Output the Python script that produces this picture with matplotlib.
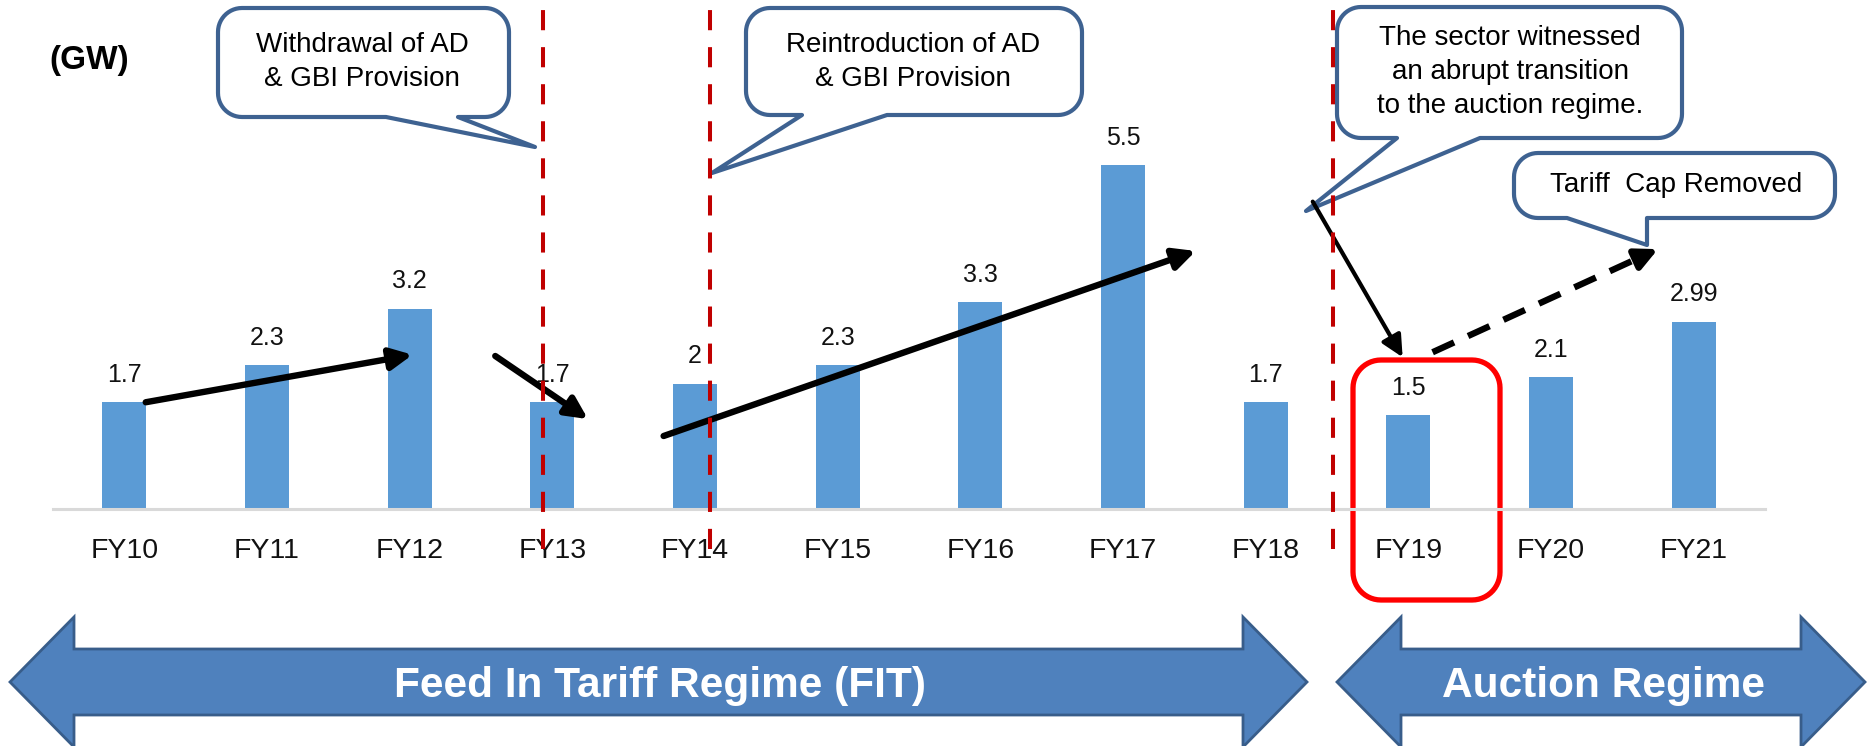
import matplotlib
matplotlib.use("Agg")
import matplotlib.pyplot as plt
from matplotlib.patches import Polygon
import numpy as np

# ---------------- data ----------------
categories = ["FY10", "FY11", "FY12", "FY13", "FY14", "FY15",
              "FY16", "FY17", "FY18", "FY19", "FY20", "FY21"]
capacity_gw = [1.7, 2.3, 3.2, 1.7, 2.0, 2.3, 3.3, 5.5, 1.7, 1.5, 2.1, 2.99]
unit_label = "(GW)"
callout_texts = [
    "Withdrawal of AD\n& GBI Provision",
    "Reintroduction of AD\n& GBI Provision",
    "The sector witnessed\nan abrupt transition\nto the auction regime.",
    "Tariff  Cap Removed",
]
regime_labels = ["Feed In Tariff Regime (FIT)", "Auction Regime"]

plt.rcParams["font.family"] = ["Liberation Sans", "DejaVu Sans"]

W, H, DPI = 1872, 746, 100
fig = plt.figure(figsize=(W / DPI, H / DPI), dpi=DPI)
fig.patch.set_facecolor("white")

# ---------------- chart axes ----------------
PX_PER_GW = 62.5
BASE_Y = 508.5
X_LEFT, X_RIGHT = 53, 1765
ax = fig.add_axes([X_LEFT / W, (H - BASE_Y) / H, (X_RIGHT - X_LEFT) / W, BASE_Y / H])
ax.set_xlim(-0.5, len(categories) - 0.5)
ax.set_ylim(0, BASE_Y / PX_PER_GW)
ax.patch.set_visible(False)
ax.set_zorder(2)

x = np.arange(len(categories))
ax.bar(x, capacity_gw, width=0.31, color="#5b9bd5", zorder=2)
for xi, v in zip(x, capacity_gw):
    ax.annotate(f"{v:g}", (xi, v), xytext=(0, 14.5), textcoords="offset points",
                ha="center", va="baseline", fontsize=18, color="#111111", zorder=3)

for s in ["top", "left", "right"]:
    ax.spines[s].set_visible(False)
ax.spines["bottom"].set_color("#d9d9d9")
ax.spines["bottom"].set_linewidth(2.2)
ax.set_yticks([])
ax.set_xticks(x)
ax.set_xticklabels(categories, fontsize=20.5, color="#111111")
ax.tick_params(axis="x", length=0, pad=21)

# policy-change markers (red dashed)
for xv in [2.935, 4.106, 8.474]:
    ax.plot([xv, xv], [-0.648, 7.976], color="#c00000", lw=2.9,
            linestyle=(0, (5.0, 4.2)), clip_on=False, zorder=6)

# trend arrows
HEAD = "-|>,head_length=0.65,head_width=0.32"

def arrow(p0, p1, lw=4.6, dashed=False):
    if dashed:
        frac = 0.93
        pm = (p0[0] + frac * (p1[0] - p0[0]), p0[1] + frac * (p1[1] - p0[1]))
        ax.plot([p0[0], pm[0]], [p0[1], pm[1]], color="black", lw=lw,
                linestyle=(0, (3.7, 2.4)), clip_on=False, zorder=5, solid_capstyle="butt")
        ax.annotate("", xy=p1, xytext=pm, annotation_clip=False, zorder=5,
                    arrowprops=dict(arrowstyle=HEAD, lw=lw, color="black",
                                    shrinkA=0, shrinkB=0, mutation_scale=20))
    else:
        ax.annotate("", xy=p1, xytext=p0, annotation_clip=False, zorder=5,
                    arrowprops=dict(arrowstyle=HEAD, lw=lw, color="black",
                                    shrinkA=0, shrinkB=0, mutation_scale=20))

arrow((0.15, 1.70), (2.02, 2.46))
arrow((2.60, 2.44), (3.25, 1.43))
arrow((3.78, 1.16), (7.51, 4.12))
arrow((8.33, 4.91), (8.96, 2.42), lw=3.0)
arrow((9.17, 2.50), (10.75, 4.15), dashed=True)

# ---------------- overlay (pixel coordinates) ----------------
ov = fig.add_axes([0, 0, 1, 1])
ov.set_xlim(0, W)
ov.set_ylim(H, 0)
ov.axis("off")
ov.set_zorder(1)

def rounded_shape(x0, y0, x1, y1, r, tail=None, n=14):
    def arc(cx, cy, a0, a1):
        t = np.radians(np.linspace(a0, a1, n))
        return list(zip(cx + r * np.cos(t), cy + r * np.sin(t)))
    pts = []
    pts += arc(x1 - r, y0 + r, -90, 0)
    pts += arc(x1 - r, y1 - r, 0, 90)
    if tail is not None:
        b1, b2, tip = tail
        pts += [(b2, y1), tip, (b1, y1)]
    pts += arc(x0 + r, y1 - r, 90, 180)
    pts += arc(x0 + r, y0 + r, 180, 270)
    return pts

EDGE = "#3e6291"
callouts = [
    # box (x0, y0, x1, y1), tail (base1, base2, tip), text centre
    ((218, 8, 509, 117), (386, 458, (535, 147)), (362, 62)),
    ((746, 8, 1082, 115), (802, 887, (712, 173)), (913, 62)),
    ((1337, 7, 1682, 138), (1397, 1480, (1306, 211)), (1510, 72)),
    ((1514, 153, 1835, 218), (1567, 1647, (1647, 245)), (1676, 185)),
]
for (box, tail, tc), txt in zip(callouts, callout_texts):
    pts = rounded_shape(*box, r=24, tail=tail)
    ov.add_patch(Polygon(pts, closed=True, facecolor="white", edgecolor=EDGE,
                         lw=3.0, joinstyle="round", zorder=3))
    ov.text(tc[0], tc[1], txt, ha="center", va="center", fontsize=20,
            linespacing=1.42, color="black", zorder=4)

# highlight box around FY19
ov.add_patch(Polygon(rounded_shape(1353, 360, 1500, 600, r=28), closed=True,
                     facecolor="none", edgecolor="#ff0000", lw=3.8, zorder=3))

# unit label
ov.text(89, 60, unit_label, ha="center", va="center", fontsize=24,
        fontweight="bold", color="black")

# regime double arrows
def double_arrow(xl, xr, yc=682, hl=64, hh=65, sh=33):
    return [(xl, yc), (xl + hl, yc - hh), (xl + hl, yc - sh), (xr - hl, yc - sh),
            (xr - hl, yc - hh), (xr, yc), (xr - hl, yc + hh), (xr - hl, yc + sh),
            (xl + hl, yc + sh), (xl + hl, yc + hh)]

for (xl, xr), lab in zip([(10, 1307), (1337, 1865)], regime_labels):
    ov.add_patch(Polygon(double_arrow(xl, xr), closed=True, facecolor="#4f81bd",
                         edgecolor="#385d8a", lw=2.0, zorder=2))
    ov.text((xl + xr) / 2 + 2, 697, lab, ha="center", va="baseline", fontsize=30.5,
            fontweight="bold", color="white", zorder=3)

fig.savefig("out.png", dpi=DPI, facecolor="white")
